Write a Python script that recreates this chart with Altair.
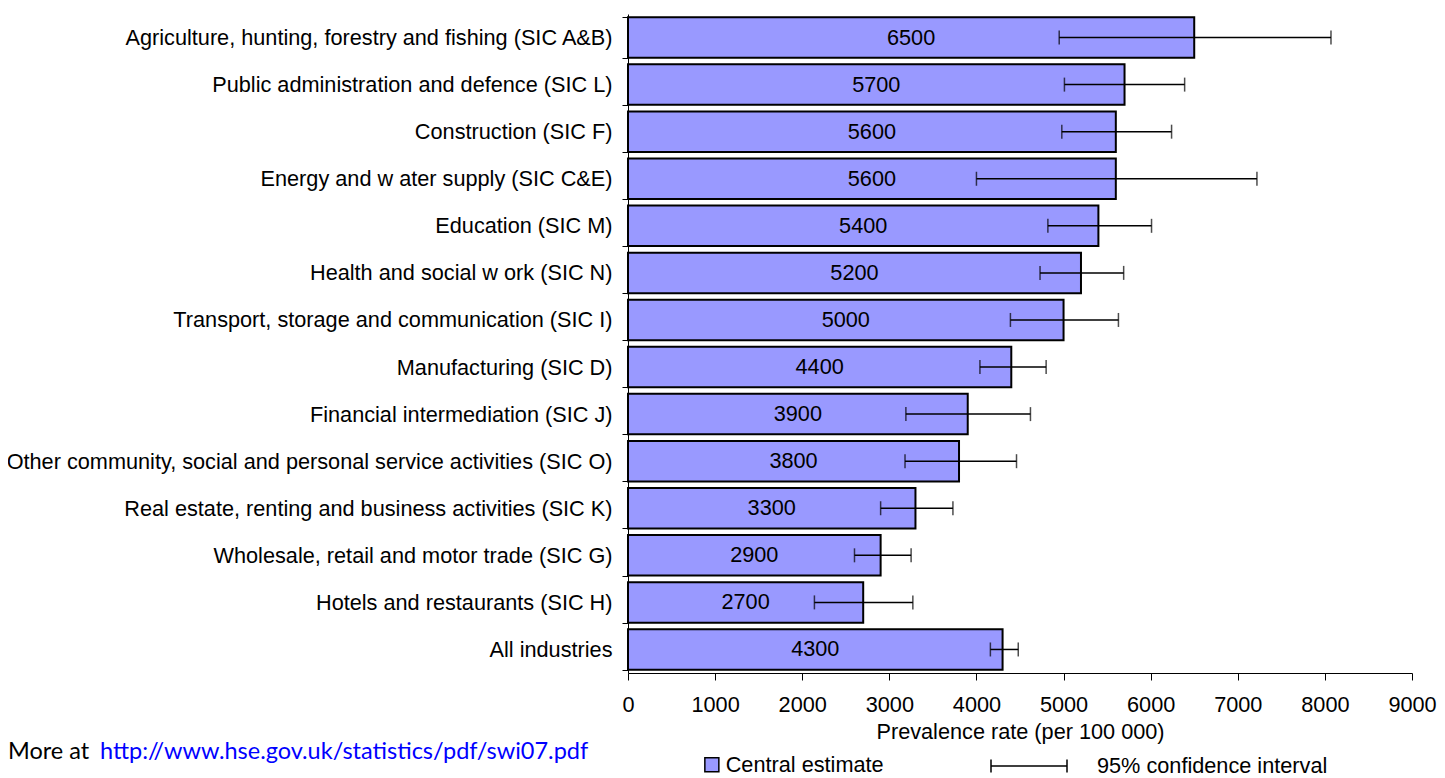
import altair as alt
import pandas as pd

categories = [
    "Agriculture, hunting, forestry and fishing (SIC A&B)",
    "Public administration and defence (SIC L)",
    "Construction (SIC F)",
    "Energy and w ater supply (SIC C&E)",
    "Education (SIC M)",
    "Health and social w ork (SIC N)",
    "Transport, storage and communication (SIC I)",
    "Manufacturing (SIC D)",
    "Financial intermediation (SIC J)",
    "Other community, social and personal service activities (SIC O)",
    "Real estate, renting and business activities (SIC K)",
    "Wholesale, retail and motor trade (SIC G)",
    "Hotels and restaurants (SIC H)",
    "All industries",
]
central = [6500, 5700, 5600, 5600, 5400, 5200, 5000, 4400, 3900, 3800, 3300, 2900, 2700, 4300]
ci_low = [4950, 5010, 4980, 4000, 4820, 4730, 4390, 4040, 3190, 3180, 2900, 2600, 2140, 4160]
ci_high = [8070, 6390, 6240, 7220, 6010, 5690, 5630, 4800, 4620, 4460, 3730, 3250, 3270, 4480]
x_ticks = [0, 1000, 2000, 3000, 4000, 5000, 6000, 7000, 8000, 9000]

footer_lead = ["More at"]
footer_link = ["http://www.hse.gov.uk/statistics/pdf/swi07.pdf"]

df = pd.DataFrame({"cat": categories, "value": central, "lo": ci_low, "hi": ci_high})
df["est"] = "Central estimate"
df["ci"] = "95% confidence interval"

FONT = "Liberation Sans"
FS = 21.7

y_enc = alt.Y(
    "cat:N",
    sort=categories,
    scale=alt.Scale(paddingInner=0.14, paddingOuter=0.07),
    axis=alt.Axis(
        title=None, tickBand="extent", tickSize=6, labelPadding=10,
        labelFontSize=FS, labelLimit=700, labelColor="black",
        domainColor="black", tickColor="black", labelOverlap=False,
    ),
)
x_scale = alt.Scale(domain=[0, 9000], nice=False)

base = alt.Chart(df)

bars = base.mark_bar(stroke="black", strokeWidth=2).encode(
    y=y_enc,
    x=alt.X(
        "value:Q", stack=None, scale=x_scale,
        axis=alt.Axis(
            values=x_ticks, format="d", tickSize=7, labelPadding=14, grid=False,
            title="Prevalence rate (per 100 000)", titlePadding=6,
            labelFontSize=FS, titleFontSize=FS, titleFontWeight="normal",
            labelColor="black", titleColor="black", domainColor="black",
            tickColor="black", labelFlush=False, labelOverlap=False,
        ),
    ),
    color=alt.Color(
        "est:N",
        scale=alt.Scale(domain=["Central estimate"], range=["#9999FF"]),
        legend=alt.Legend(
            title=None, orient="none", legendX=73, legendY=740,
            symbolType="square", symbolSize=196, symbolStrokeColor="black",
            symbolStrokeWidth=1.5, labelFontSize=FS, labelOffset=3,
            labelLimit=400, labelColor="black",
        ),
    ),
)

labels = base.transform_calculate(mid="datum.value / 2").mark_text(
    fontSize=FS, color="black"
).encode(
    y=alt.Y("cat:N", sort=categories),
    x=alt.X("mid:Q", scale=x_scale),
    text=alt.Text("value:Q", format="d"),
)

ci_line = base.mark_rule(strokeWidth=1.5).encode(
    y=alt.Y("cat:N", sort=categories),
    x=alt.X("lo:Q", scale=x_scale),
    x2="hi:Q",
    stroke=alt.Stroke(
        "ci:N",
        scale=alt.Scale(domain=["95% confidence interval"], range=["black"]),
        legend=alt.Legend(
            title=None, orient="none", legendX=362, legendY=713,
            symbolType="M-1,-0.17L-1,0.17M-1,0L1,0M1,-0.17L1,0.17",
            symbolSize=5776, symbolStrokeWidth=1.5, labelFontSize=FS,
            labelOffset=29, labelLimit=400, labelColor="black",
        ),
    ),
)

cap_lo = base.mark_tick(color="black", thickness=1.5, size=14).encode(
    y=alt.Y("cat:N", sort=categories),
    x=alt.X("lo:Q", scale=x_scale),
)
cap_hi = base.mark_tick(color="black", thickness=1.5, size=14).encode(
    y=alt.Y("cat:N", sort=categories),
    x=alt.X("hi:Q", scale=x_scale),
)

foot1 = alt.Chart(pd.DataFrame({"t": footer_lead})).mark_text(
    font="Lato", fontSize=23.5, color="black", align="left", baseline="alphabetic"
).encode(text="t:N", x=alt.value(-620), y=alt.value(745))
foot2 = alt.Chart(pd.DataFrame({"t": footer_link})).mark_text(
    font="Lato", fontSize=23.5, color="#0000ff", align="left", baseline="alphabetic"
).encode(text="t:N", x=alt.value(-528), y=alt.value(745))

chart = alt.layer(bars, labels, ci_line, cap_lo, cap_hi, foot1, foot2).resolve_scale(
    color="independent"
).properties(
    width=784, height=659,
    autosize=alt.AutoSizeParams(type="none"),
    padding={"left": 620, "top": 6, "right": 25, "bottom": 105},
).configure(font=FONT).configure_view(strokeWidth=0, stroke="transparent").configure_axis(
    labelFont=FONT, titleFont=FONT
).configure_legend(labelFont=FONT)

chart.save("out.html", embed_options={"renderer": "svg", "actions": False})
